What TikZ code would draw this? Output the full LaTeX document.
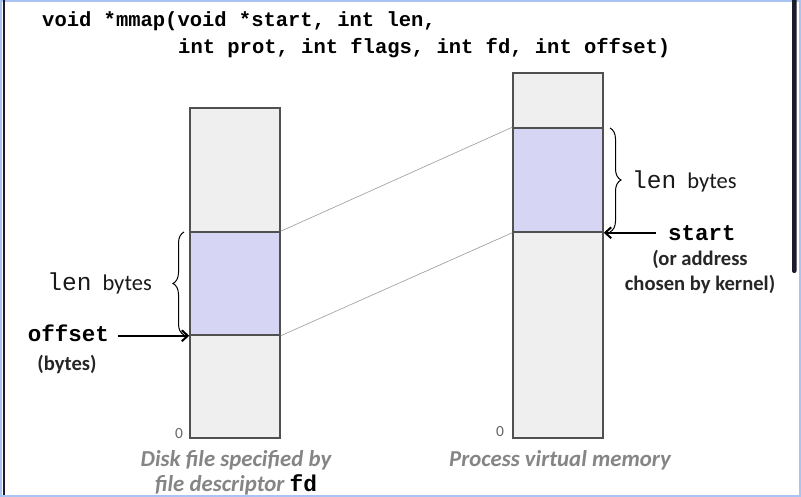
\documentclass[tikz,border=0pt]{standalone}
\usepackage{fontspec}
\setmainfont{Carlito}
\setmonofont{Liberation Mono}
\usetikzlibrary{arrows.meta,decorations.pathreplacing}
\definecolor{colfill}{HTML}{EFEFEF}
\definecolor{mapfill}{HTML}{D6D6F4}
\definecolor{edgegray}{HTML}{505050}
\definecolor{linkgray}{HTML}{9A9A9A}
\definecolor{capgray}{HTML}{858585}
\definecolor{framblue}{HTML}{A9C4F2}
\definecolor{barnavy}{HTML}{1C1C2C}
\tikzset{
  column/.style={draw=edgegray, line width=1.5pt, fill=colfill, minimum width=90pt, inner sep=0pt},
  mapped/.style={draw=edgegray, line width=1.5pt, fill=mapfill, minimum width=90pt, inner sep=0pt},
  link/.style={draw=linkgray, line width=0.6pt},
  pointer/.style={line width=2.4pt, -{Straight Barb[length=6pt,width=11pt,line width=2pt]}},
  curly/.style={line width=1pt, decorate, decoration={brace, amplitude=11pt, aspect=0.5}},
  codetxt/.style={font=\ttfamily\bfseries\fontsize{20.5}{24}\selectfont, inner sep=0pt},
  monob/.style={font=\ttfamily\bfseries\fontsize{22.5}{26}\selectfont, inner sep=0pt},
  lenbytes/.style={font=\fontsize{22.5}{26}\selectfont, text=black!90, inner sep=0pt},
  note/.style={font=\bfseries\fontsize{20.6}{25}\selectfont, text=black!85, inner sep=0pt, align=center},
  caption/.style={font=\bfseries\itshape\fontsize{22.8}{25.5}\selectfont, text=capgray, inner sep=0pt, align=center},
  zero/.style={font=\fontsize{15.5}{17}\selectfont, text=black!60, inner sep=0pt}
}
\newcommand{\lenword}{{\ttfamily\fontsize{24.5}{28}\selectfont len}\hspace{11pt}bytes}
\begin{document}
\begin{tikzpicture}[x=1pt,y=-1pt]
  \useasboundingbox (0,0) rectangle (801,497);
  % slide frame
  \fill[white] (0,0) rectangle (801,497);
  \draw[framblue, line width=2pt] (1,1) rectangle (800,496);
  \fill[barnavy] (2.6,0) rectangle (4.7,495);
  \fill[barnavy, rounded corners=2pt] (792,-3) rectangle (796.5,273);

  % function prototype
  \node[codetxt, anchor=base west] (proto1) at (42,27) {void *mmap(void *start, int len,};
  \node[codetxt, anchor=base west] (proto2) at (178,54) {int prot, int flags, int fd, int offset)};

  % disk file column
  \node[column, minimum height=330pt] (disk) at (235,273) {};
  \node[mapped, minimum height=103pt] (dblk) at (235,283.5) {};
  % virtual memory column
  \node[column, minimum height=365pt] (vm) at (558,255.5) {};
  \node[mapped, minimum height=104pt] (vblk) at (558,180) {};

  % mapping lines
  \draw[link] (dblk.north east) -- (vblk.north west);
  \draw[link] (dblk.south east) -- (vblk.south west);

  % disk side labels
  \draw[curly] (184,335) -- (184,232);
  \node[lenbytes, anchor=east] (llen) at (152,283) {\lenword};
  \node[monob, anchor=east] (offset) at (109,333) {offset};
  \node[note] (obytes) at (67,364) {(bytes)};
  \draw[pointer] (offset.east |- dblk.south west) ++(9,0) -- (dblk.south west);

  % memory side labels
  \draw[curly] (610,128) -- (610,232);
  \node[lenbytes, anchor=west] (rlen) at (632,181) {\lenword};
  \node[monob, anchor=west] (start) at (668,233) {start};
  \node[note, anchor=north] (addr) at (700,250) {(or address\\[0pt] chosen by kernel)};
  \draw[pointer] (start.west |- vblk.south east) ++(-12,0) -- (vblk.south east);

  % origin marks
  \node[zero] (dzero) at (179,434) {0};
  \node[zero] (vzero) at (500,432) {0};

  % captions
  \node[caption, anchor=north] (dcap) at (236,450) {Disk file specified by\\ file descriptor {\ttfamily\bfseries\upshape\color{black}fd}};
  \node[caption, anchor=north] (vcap) at (560,450) {Process virtual memory};
\end{tikzpicture}
\end{document}
